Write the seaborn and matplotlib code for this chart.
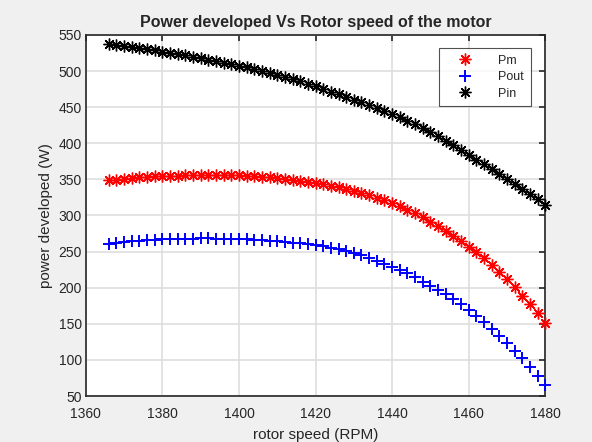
import numpy as np
import pandas as pd
import matplotlib
matplotlib.use('Agg')
import matplotlib.pyplot as plt
import seaborn as sns

# --- data ---
rotor_speed = [1366, 1368, 1370, 1372, 1374, 1376, 1378, 1380, 1382, 1384,
               1386, 1388, 1390, 1392, 1394, 1396, 1398, 1400, 1402, 1404,
               1406, 1408, 1410, 1412, 1414, 1416, 1418, 1420, 1422, 1424,
               1426, 1428, 1430, 1432, 1434, 1436, 1438, 1440, 1442, 1444,
               1446, 1448, 1450, 1452, 1454, 1456, 1458, 1460, 1462, 1464,
               1466, 1468, 1470, 1472, 1474, 1476, 1478, 1480]

pm = [348.5, 349.8, 350.9, 351.9, 352.7, 353.4, 354.0, 354.5, 354.9, 355.3,
      355.6, 355.8, 355.9, 356.0, 356.0, 355.9, 355.7, 355.4, 355.0, 354.4,
      353.7, 352.9, 351.9, 350.8, 349.6, 348.3, 346.9, 345.4, 343.6, 341.5,
      339.2, 336.7, 334.0, 331.0, 327.8, 324.4, 320.8, 317.0, 312.5, 307.8,
      302.8, 297.3, 291.5, 285.5, 279.0, 272.0, 264.7, 257.0, 249.5, 241.0,
      232.0, 222.0, 211.5, 200.5, 189.0, 177.0, 164.5, 151.5]

pout = [260.5, 262.0, 263.3, 264.4, 265.3, 266.0, 266.6, 267.1, 267.5, 267.8,
        268.0, 268.1, 268.2, 268.2, 268.1, 268.0, 267.8, 267.5, 267.1, 266.6,
        266.0, 265.3, 264.5, 263.6, 262.5, 261.3, 260.0, 258.6, 257.1, 255.5,
        253.3, 250.7, 247.8, 244.6, 241.1, 237.3, 233.3, 229.0, 224.5, 220.0,
        214.5, 208.5, 203.0, 197.5, 191.5, 184.5, 177.5, 169.5, 161.0, 152.0,
        143.5, 133.5, 123.0, 112.5, 102.0, 90.5, 78.0, 65.0]

pin = [538.0, 536.5, 535.0, 533.4, 531.8, 530.2, 528.5, 526.8, 525.1, 523.35,
       521.55, 519.7, 517.8, 515.85, 513.85, 511.8, 509.7, 507.55, 505.25, 502.85,
       500.3, 497.6, 494.8, 491.85, 488.8, 485.6, 482.25, 478.75, 475.25, 471.65,
       468.0, 464.25, 460.45, 456.55, 452.6, 448.6, 444.5, 440.3, 435.9, 431.2,
       426.2, 420.9, 415.3, 409.5, 403.5, 397.2, 390.6, 383.7, 377.3, 370.8,
       364.2, 357.5, 350.7, 343.8, 336.8, 329.6, 322.3, 314.8]

x_ticks = [1360, 1380, 1400, 1420, 1440, 1460, 1480]
y_ticks = [50, 100, 150, 200, 250, 300, 350, 400, 450, 500, 550]

df = pd.DataFrame({'speed': rotor_speed, 'Pm': pm, 'Pout': pout, 'Pin': pin})

sns.set_style('white')
plt.rcParams['font.family'] = ['Liberation Sans', 'DejaVu Sans']

fig = plt.figure(figsize=(5.92, 4.42), dpi=100, facecolor='#f0f0f0')
ax = fig.add_axes([0.145, 0.104, 0.776, 0.817])
ax.set_facecolor('white')

# MATLAB-like asterisk: 8 spokes
asterisk = (8, 2, 0)
sns.lineplot(data=df, x='speed', y='Pm', ax=ax, color='red', marker=asterisk,
             linestyle='', markersize=8.5, markeredgewidth=1.0,
             markeredgecolor='red', label='Pm', clip_on=False, zorder=3)
sns.lineplot(data=df, x='speed', y='Pout', ax=ax, color='blue', marker='+',
             linestyle='', markersize=9, markeredgewidth=1.4,
             markeredgecolor='blue', label='Pout', clip_on=False, zorder=3)
sns.lineplot(data=df, x='speed', y='Pin', ax=ax, color='black', marker=asterisk,
             linestyle='', markersize=8.5, markeredgewidth=1.0,
             markeredgecolor='black', label='Pin', clip_on=False, zorder=3)

ax.set_xlim(1360, 1480)
ax.set_ylim(50, 550)
ax.set_xticks(x_ticks)
ax.set_yticks(y_ticks)
ax.grid(True, color='#dedede', linewidth=1.2)
ax.set_axisbelow(True)
for s in ax.spines.values():
    s.set_color('#262626')
    s.set_linewidth(1.2)
ax.tick_params(direction='in', length=4, width=1.2, color='#262626',
               labelsize=10, labelcolor='#262626', top=True, right=True)
ax.tick_params(axis='x', pad=8)
ax.tick_params(axis='y', pad=3)

ax.set_xlabel('rotor speed (RPM)', fontsize=11, color='#262626', labelpad=5)
ax.set_ylabel('power developed (W)', fontsize=11, color='#262626', labelpad=4)
ax.set_title('Power developed Vs Rotor speed of the motor', fontsize=11.5,
             fontweight='bold', pad=6)

leg = ax.legend(loc='upper right', bbox_to_anchor=(0.969, 0.964), fontsize=9,
                frameon=True, fancybox=False, edgecolor='#262626',
                handlelength=3.0, handletextpad=1.2, borderpad=0.55,
                labelspacing=0.35, borderaxespad=0, markerscale=1.0)
leg.get_frame().set_linewidth(0.8)
leg.set_zorder(5)

plt.savefig('out.png', dpi=100, facecolor=fig.get_facecolor())
